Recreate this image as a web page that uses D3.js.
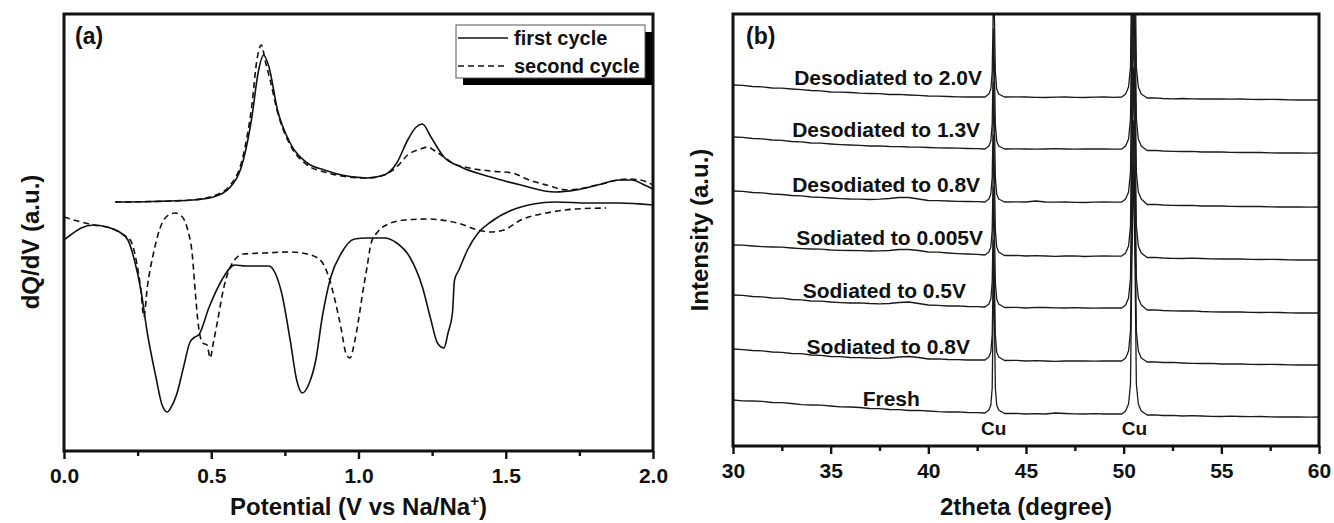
<!DOCTYPE html>
<html>
<head>
<meta charset="utf-8">
<script src="https://cdn.jsdelivr.net/npm/d3@7"></script>
<style>
  html, body { margin: 0; padding: 0; background: #fff; }
  svg { display: block; }
  text { font-family: "Liberation Sans", Arial, Helvetica, sans-serif; font-weight: bold; fill: #111; }
</style>
</head>
<body>
<svg id="chart" width="1334" height="523"></svg>
<script>
// ---------- (a) differential capacity, dQ/dV vs potential ----------
// [potential (V), dQ/dV (a.u.)]
const chargeFirst = [
  [0.174, 0.3], [0.300, 0.35], [0.435, 0.5], [0.507, 0.8], [0.565, 1.8], [0.609, 4.5],
  [0.638, 8.8], [0.659, 13.2], [0.678, 15.0], [0.696, 13.8], [0.725, 9.5], [0.768, 6.2],
  [0.826, 4.2], [0.884, 3.5], [0.942, 3.0], [1.029, 2.7], [1.087, 3.0], [1.130, 4.2],
  [1.167, 6.5], [1.196, 7.8], [1.217, 8.1], [1.246, 6.8], [1.290, 4.8], [1.348, 3.8],
  [1.449, 2.8], [1.551, 2.0], [1.667, 1.3], [1.739, 1.5], [1.812, 2.0], [1.884, 2.5],
  [1.928, 2.5], [1.971, 2.0], [2.000, 1.6]
];
const chargeSecond = [
  [0.174, 0.3], [0.300, 0.35], [0.435, 0.5], [0.507, 0.9], [0.565, 2.0], [0.609, 5.0],
  [0.638, 10.0], [0.655, 14.5], [0.670, 16.0], [0.685, 14.2], [0.700, 12.5], [0.725, 9.3],
  [0.768, 6.0], [0.826, 4.0], [0.884, 3.3], [0.942, 2.9], [1.029, 2.7], [1.087, 3.0],
  [1.130, 3.8], [1.167, 5.0], [1.210, 5.6], [1.235, 5.8], [1.260, 5.4], [1.290, 4.8],
  [1.319, 4.2], [1.377, 3.7], [1.449, 3.4], [1.522, 3.2], [1.580, 2.5], [1.638, 2.0],
  [1.710, 1.5], [1.812, 2.0], [1.913, 2.6], [1.957, 2.5], [2.000, 2.0]
];
const dischargeFirst = [
  [0.000, -3.5], [0.022, -3.0], [0.058, -2.3], [0.101, -2.0], [0.145, -2.2], [0.188, -2.7],
  [0.217, -3.5], [0.239, -5.5], [0.261, -8.5], [0.283, -12.8], [0.312, -17.2], [0.333, -20.0],
  [0.351, -20.7], [0.362, -20.3], [0.384, -18.8], [0.406, -16.2], [0.428, -13.7], [0.445, -13.2],
  [0.457, -13.0], [0.493, -10.2], [0.536, -7.5], [0.580, -6.0], [0.616, -6.1], [0.652, -6.1],
  [0.696, -6.1], [0.717, -6.8], [0.739, -8.8], [0.768, -13.5], [0.790, -17.5], [0.809, -18.8],
  [0.833, -17.8], [0.855, -15.5], [0.877, -11.2], [0.906, -7.2], [0.942, -4.8], [0.986, -3.4],
  [1.029, -3.3], [1.087, -3.3], [1.130, -3.8], [1.174, -5.2], [1.217, -8.2], [1.246, -11.5],
  [1.268, -13.8], [1.290, -14.3], [1.304, -12.8], [1.319, -10.8], [1.326, -7.5], [1.341, -6.5],
  [1.370, -4.5], [1.406, -2.8], [1.449, -1.7], [1.522, -0.5], [1.594, 0.1], [1.667, 0.3],
  [1.783, 0.2], [1.884, 0.2], [2.000, 0.0]
];
const dischargeSecond = [
  [0.000, -1.2], [0.058, -1.7], [0.101, -2.0], [0.159, -2.3], [0.203, -3.0], [0.225, -3.5],
  [0.243, -5.2], [0.261, -8.5], [0.271, -11.2], [0.283, -8.2], [0.304, -4.8], [0.333, -1.8],
  [0.355, -1.0], [0.377, -0.8], [0.399, -1.1], [0.420, -2.5], [0.435, -4.8], [0.446, -8.8],
  [0.457, -12.2], [0.471, -13.8], [0.486, -14.0], [0.496, -15.3], [0.507, -13.8], [0.522, -11.5],
  [0.543, -8.2], [0.572, -5.8], [0.609, -4.9], [0.681, -4.8], [0.768, -4.7], [0.826, -4.9],
  [0.870, -5.5], [0.899, -7.2], [0.920, -9.5], [0.942, -12.5], [0.957, -14.8], [0.971, -15.3],
  [0.986, -13.8], [1.000, -11.5], [1.014, -8.8], [1.029, -6.2], [1.043, -3.8], [1.065, -2.7],
  [1.101, -1.9], [1.159, -1.5], [1.232, -1.4], [1.348, -1.9], [1.406, -2.5], [1.449, -2.7],
  [1.493, -2.5], [1.551, -1.5], [1.638, -0.8], [1.739, -0.4], [1.841, -0.3]
];
const potentialTicks = [0, 0.5, 1.0, 1.5, 2.0];
const cycleNames = ["first cycle", "second cycle"];

// ---------- (b) ex-situ XRD patterns, [2theta (deg), intensity (a.u.)] ----------
const fresh = [
  [30, 46], [30.5, 45.2], [31, 45], [31.5, 44.6], [32, 43.5], [32.5, 43.3], [33, 42.5], [33.5, 41.4], [34, 41],
  [34.5, 40.8], [35, 40], [35.5, 39.2], [36, 39], [36.5, 38.5], [37, 37.5], [37.5, 37.4], [38, 36.5], [38.5, 36.3],
  [39, 35.5], [39.5, 35.6], [40, 35], [40.5, 34.3], [41, 34], [41.5, 34.1], [42, 33.5], [42.5, 33.4], [42.9, 33],
  [43.1, 36], [43.2, 41], [43.27, 58], [43.32, 138], [43.35, 183], [43.38, 138], [43.43, 58], [43.5, 41], [43.6, 36],
  [43.9, 32.5], [44.5, 32.6], [45, 32], [45.5, 32.3], [46, 32], [46.5, 33], [47, 32.5], [47.5, 32.1], [48, 32],
  [48.5, 32.3], [49, 32], [49.5, 32.2], [49.9, 32],
  [50.1, 35], [50.25, 42], [50.35, 62], [50.42, 182], [50.5, 282], [50.58, 182], [50.65, 62], [50.75, 42], [50.9, 35],
  [51.2, 31], [51.6, 31.2], [52, 30.5], [52.5, 30.6], [53, 30], [53.5, 30.3], [54, 30], [54.5, 29.7], [55, 29.5],
  [55.5, 29.8], [56, 29.5], [56.5, 29.3], [57, 29.5], [57.5, 29.2], [58, 29], [58.5, 29.2], [59, 29], [59.5, 28.8], [60, 29]
];
const sodiated08 = [
  [30, 97], [30.5, 96.4], [31, 95.5], [31.5, 95.2], [32, 94], [32.5, 93.6], [33, 92.5], [33.5, 92.3], [34, 91],
  [34.5, 90.6], [35, 89.5], [35.5, 89.3], [36, 88.5], [36.5, 88.4], [37, 88], [37.5, 87.6], [38, 88],
  [38.5, 89], [39, 89.5], [39.5, 88.5], [40, 87], [40.5, 87.1], [41, 86.5], [41.5, 86.3], [42, 86], [42.5, 86.2], [42.9, 86],
  [43.1, 89], [43.2, 94], [43.27, 111], [43.32, 170], [43.35, 206], [43.38, 170], [43.43, 111], [43.5, 94], [43.6, 89],
  [43.9, 85.5], [44.5, 85.7], [45, 85], [45.5, 85.3], [46, 85], [46.5, 84.7], [47, 85], [47.5, 85.2], [48, 85],
  [48.5, 84.8], [49, 85], [49.5, 85.2], [49.9, 85],
  [50.1, 88], [50.25, 95], [50.35, 115], [50.42, 229], [50.5, 325], [50.58, 229], [50.65, 115], [50.75, 95], [50.9, 88],
  [51.2, 84], [51.6, 84.2], [52, 83.5], [52.5, 83.6], [53, 83], [53.5, 82.6], [54, 82.5], [54.5, 82.7], [55, 82],
  [55.5, 82.2], [56, 82], [56.5, 81.6], [57, 81.5], [57.5, 81.7], [58, 81.5], [58.5, 81.2], [59, 81], [59.5, 81.2], [60, 81]
];
const sodiated05 = [
  [30, 151], [30.5, 150.6], [31, 149.5], [31.5, 149.1], [32, 148], [32.5, 147.8], [33, 146.5], [33.5, 146.2], [34, 145],
  [34.5, 144.8], [35, 144], [35.5, 143.4], [36, 143], [36.5, 143.1], [37, 142.5], [37.5, 142.2], [38, 142.5],
  [38.5, 143.5], [39, 144], [39.5, 142.5], [40, 141], [40.5, 140.7], [41, 140], [41.5, 140.2], [42, 139.5], [42.5, 139.4], [42.9, 139],
  [43.1, 142], [43.2, 147], [43.27, 164], [43.32, 223], [43.35, 259], [43.38, 223], [43.43, 164], [43.5, 147], [43.6, 142],
  [43.9, 138.5], [44.5, 138.7], [45, 138], [45.5, 138.6], [46, 138.5], [46.5, 138.1], [47, 138], [47.5, 138.3], [48, 138],
  [48.5, 137.8], [49, 138], [49.5, 138.2], [49.9, 138],
  [50.1, 141], [50.25, 148], [50.35, 168], [50.42, 282], [50.5, 378], [50.58, 282], [50.65, 168], [50.75, 148], [50.9, 141],
  [51.2, 136], [51.6, 136.2], [52, 135.5], [52.5, 135.2], [53, 135], [53.5, 135.1], [54, 134.5], [54.5, 134.2], [55, 134],
  [55.5, 134.2], [56, 134], [56.5, 133.6], [57, 133.5], [57.5, 133.7], [58, 133.5], [58.5, 133.1], [59, 133], [59.5, 133.2], [60, 133]
];
const sodiated0005 = [
  [30, 201], [30.5, 200.8], [31, 200], [31.5, 199.4], [32, 199], [32.5, 198.8], [33, 198], [33.5, 197.4], [34, 197],
  [34.5, 196.8], [35, 196], [35.5, 195.6], [36, 195.5], [36.5, 195.4], [37, 195], [37.5, 195.1], [38, 195.5],
  [38.5, 196.5], [39, 196.5], [39.5, 195.5], [40, 194], [40.5, 193.8], [41, 193], [41.5, 192.4], [42, 192], [42.5, 191.6], [42.9, 191],
  [43.1, 194], [43.2, 199], [43.27, 216], [43.32, 275], [43.35, 311], [43.38, 275], [43.43, 216], [43.5, 199], [43.6, 194],
  [43.9, 190.5], [44.5, 190.6], [45, 190], [45.5, 190.3], [46, 190], [46.5, 189.7], [47, 190], [47.5, 190.2], [48, 189.5],
  [48.5, 189.8], [49, 190], [49.5, 189.8], [49.9, 190],
  [50.1, 193], [50.25, 200], [50.35, 220], [50.42, 334], [50.5, 430], [50.58, 334], [50.65, 220], [50.75, 200], [50.9, 193],
  [51.2, 188.5], [51.6, 188.6], [52, 188], [52.5, 187.7], [53, 187.5], [53.5, 187.8], [54, 187.5], [54.5, 187.1], [55, 187],
  [55.5, 187.2], [56, 187], [56.5, 186.6], [57, 186.5], [57.5, 186.7], [58, 186.5], [58.5, 186.1], [59, 186], [59.5, 186.2], [60, 186]
];
const desodiated08 = [
  [30, 255], [30.5, 254.6], [31, 253.5], [31.5, 253.2], [32, 252], [32.5, 251.5], [33, 250.5], [33.5, 250.2], [34, 249],
  [34.5, 248.7], [35, 248], [35.5, 247.4], [36, 247], [36.5, 246.9], [37, 246.5], [37.5, 246.8], [38, 247.5],
  [38.5, 248.5], [39, 248.5], [39.5, 247], [40, 245.5], [40.5, 245.4], [41, 245], [41.5, 244.6], [42, 244.5], [42.5, 244.3], [42.9, 244],
  [43.1, 247], [43.2, 252], [43.27, 269], [43.32, 328], [43.35, 364], [43.38, 328], [43.43, 269], [43.5, 252], [43.6, 247],
  [43.9, 244], [44.5, 244.2], [45, 244], [45.5, 245], [46, 244], [46.5, 243.8], [47, 244], [47.5, 243.6], [48, 243.5],
  [48.5, 243.8], [49, 244], [49.5, 243.8], [49.9, 244],
  [50.1, 247], [50.25, 254], [50.35, 274], [50.42, 388], [50.5, 484], [50.58, 388], [50.65, 274], [50.75, 254], [50.9, 247],
  [51.2, 241.5], [51.6, 241.6], [52, 241], [52.5, 240.7], [53, 240.5], [53.5, 240.6], [54, 240], [54.5, 240.2], [55, 240],
  [55.5, 239.6], [56, 239.5], [56.5, 239.7], [57, 239.5], [57.5, 239.1], [58, 239], [58.5, 239.2], [59, 239], [59.5, 238.8], [60, 239]
];
const desodiated13 = [
  [30, 309], [30.5, 308.6], [31, 307.5], [31.5, 307.2], [32, 306], [32.5, 305.6], [33, 304.5], [33.5, 304.2], [34, 303],
  [34.5, 302.8], [35, 302], [35.5, 301.4], [36, 301], [36.5, 300.7], [37, 300], [37.5, 300.1], [38, 299.5],
  [38.5, 299.4], [39, 299], [39.5, 298.9], [40, 298.5], [40.5, 298.1], [41, 298], [41.5, 297.9], [42, 297.5], [42.5, 297.3], [42.9, 297],
  [43.1, 300], [43.2, 305], [43.27, 322], [43.32, 381], [43.35, 417], [43.38, 381], [43.43, 322], [43.5, 305], [43.6, 300],
  [43.9, 297], [44.5, 297.2], [45, 297], [45.5, 296.8], [46, 297], [46.5, 297.3], [47, 297], [47.5, 296.8], [48, 297],
  [48.5, 297.2], [49, 297], [49.5, 296.8], [49.9, 297],
  [50.1, 300], [50.25, 307], [50.35, 327], [50.42, 441], [50.5, 537], [50.58, 441], [50.65, 327], [50.75, 307], [50.9, 300],
  [51.2, 295.5], [51.6, 295.6], [52, 295], [52.5, 294.7], [53, 294.5], [53.5, 294.6], [54, 294], [54.5, 294.2], [55, 294],
  [55.5, 293.6], [56, 293.5], [56.5, 293.7], [57, 293.5], [57.5, 293.1], [58, 293], [58.5, 293.2], [59, 293], [59.5, 292.8], [60, 293]
];
const desodiated20 = [
  [30, 361], [30.5, 360.6], [31, 359.5], [31.5, 359.1], [32, 358], [32.5, 357.8], [33, 357], [33.5, 356.3], [34, 355.5],
  [34.5, 355.2], [35, 354], [35.5, 353.9], [36, 353.5], [36.5, 352.8], [37, 352.5], [37.5, 352.3], [38, 351.5],
  [38.5, 351.6], [39, 351], [39.5, 350.6], [40, 350], [40.5, 349.9], [41, 349.5], [41.5, 349.2], [42, 349], [42.5, 349.1], [42.9, 349],
  [43.1, 352], [43.2, 357], [43.27, 374], [43.32, 433], [43.35, 469], [43.38, 433], [43.43, 374], [43.5, 357], [43.6, 352],
  [43.9, 349], [44.5, 349.2], [45, 349], [45.5, 348.7], [46, 348.5], [46.5, 348.8], [47, 349], [47.5, 348.6], [48, 348.5],
  [48.5, 348.8], [49, 349], [49.5, 348.7], [49.9, 349],
  [50.1, 352], [50.25, 359], [50.35, 379], [50.42, 493], [50.5, 589], [50.58, 493], [50.65, 379], [50.75, 359], [50.9, 352],
  [51.2, 348], [51.6, 348.1], [52, 347.5], [52.5, 347.2], [53, 347.5], [53.5, 347.1], [54, 347], [54.5, 347.2], [55, 347],
  [55.5, 346.8], [56, 347], [56.5, 346.6], [57, 346.5], [57.5, 346.7], [58, 346.5], [58.5, 346.1], [59, 346], [59.5, 346.2], [60, 346]
];
const sampleNames = ["Fresh", "Sodiated to 0.8V", "Sodiated to 0.5V", "Sodiated to 0.005V",
                     "Desodiated to 0.8V", "Desodiated to 1.3V", "Desodiated to 2.0V"];
const copperPeaks = [43.35, 50.55];
const thetaTicks = [30, 35, 40, 45, 50, 55, 60];

// ---------- drawing ----------
const svg = d3.select("#chart");
const defs = svg.append("defs");

function bottomAxis(g, x, major, minor, fmt, y) {
  g.append("g")
    .attr("transform", `translate(0,${y})`)
    .call(d3.axisBottom(x).tickValues(minor).tickSize(5).tickFormat(""))
    .call(a => a.select(".domain").remove())
    .call(a => a.selectAll("line").attr("stroke", "#111").attr("stroke-width", 2.4));
  const ax = g.append("g")
    .attr("transform", `translate(0,${y})`)
    .call(d3.axisBottom(x).tickValues(major).tickSize(8).tickPadding(9).tickFormat(fmt))
    .call(a => a.select(".domain").remove());
  ax.selectAll("line").attr("stroke", "#111").attr("stroke-width", 2.4);
  ax.selectAll("text").attr("font-size", 21).attr("fill", "#111")
    .style("font-family", '"Liberation Sans", Arial, sans-serif').style("font-weight", "bold");
}

// ----- panel (a) -----
const A = { left: 64, right: 653, top: 14, bottom: 451 };
const xA = d3.scaleLinear().domain([0, 2]).range([A.left, A.right]);
const yA = d3.scaleLinear().domain([-24.6, 19.1]).range([A.bottom, A.top]);
const gA = svg.append("g");

defs.append("clipPath").attr("id", "clipA").append("rect")
  .attr("x", A.left).attr("y", A.top).attr("width", A.right - A.left).attr("height", A.bottom - A.top);

const lineA = d3.line().x(d => xA(d[0])).y(d => yA(d[1])).curve(d3.curveMonotoneX);
const curvesA = [
  { data: chargeFirst, dash: null },
  { data: dischargeFirst, dash: null },
  { data: chargeSecond, dash: "6,4" },
  { data: dischargeSecond, dash: "6,4" }
];
gA.append("g").attr("clip-path", "url(#clipA)")
  .selectAll("path").data(curvesA).join("path")
  .attr("d", d => lineA(d.data))
  .attr("fill", "none").attr("stroke", "#111").attr("stroke-width", 1.6)
  .attr("stroke-dasharray", d => d.dash);

const minorA = d3.range(0, 2.01, 0.25).filter(v => Math.abs(v * 2 - Math.round(v * 2)) > 1e-6);
bottomAxis(gA, xA, potentialTicks, minorA, d3.format(".1f"), A.bottom);

gA.append("rect").attr("x", A.left).attr("y", A.top)
  .attr("width", A.right - A.left).attr("height", A.bottom - A.top)
  .attr("fill", "none").attr("stroke", "#111").attr("stroke-width", 3);

gA.append("text").attr("x", 75).attr("y", 44).attr("font-size", 23).text("(a)");

// legend with drop shadow
const leg = gA.append("g").attr("transform", "translate(456,25)");
leg.append("rect").attr("x", 7).attr("y", 7).attr("width", 189).attr("height", 53).attr("fill", "#000");
leg.append("rect").attr("x", 0).attr("y", 0).attr("width", 189).attr("height", 53)
  .attr("fill", "#fff").attr("stroke", "#555").attr("stroke-width", 1);
cycleNames.forEach((name, i) => {
  leg.append("line").attr("x1", 2).attr("x2", 52).attr("y1", 13 + i * 28).attr("y2", 13 + i * 28)
    .attr("stroke", "#111").attr("stroke-width", 1.3).attr("stroke-dasharray", i ? "6,4" : null);
  leg.append("text").attr("x", 58).attr("y", 20 + i * 28).attr("font-size", 20).text(name);
});

gA.append("text").attr("transform", `translate(39,242) rotate(-90)`)
  .attr("text-anchor", "middle").attr("font-size", 24).text("dQ/dV (a.u.)");
const xtA = gA.append("text").attr("x", (A.left + A.right) / 2).attr("y", 515)
  .attr("text-anchor", "middle").attr("font-size", 24);
xtA.append("tspan").text("Potential (V vs Na/Na");
xtA.append("tspan").attr("font-size", 15).attr("dy", -9).text("+");
xtA.append("tspan").attr("dy", 9).text(")");

// ----- panel (b) -----
const B = { left: 733, right: 1319, top: 14, bottom: 446 };
const xB = d3.scaleLinear().domain([30, 60]).range([B.left, B.right]);
const yB = d3.scaleLinear().domain([0, 432]).range([B.bottom, B.top]);
const gB = svg.append("g");

defs.append("clipPath").attr("id", "clipB").append("rect")
  .attr("x", B.left).attr("y", B.top).attr("width", B.right - B.left).attr("height", B.bottom - B.top);

const patterns = [fresh, sodiated08, sodiated05, sodiated0005, desodiated08, desodiated13, desodiated20];
const lineB = d3.line().x(d => xB(d[0])).y(d => yB(d[1]));
gB.append("g").attr("clip-path", "url(#clipB)")
  .selectAll("path").data(patterns).join("path")
  .attr("d", d => lineB(d))
  .attr("fill", "none").attr("stroke", "#1a1a1a").attr("stroke-width", 1.3).attr("stroke-linejoin", "round");

const minorB = d3.range(32.5, 60, 5);
bottomAxis(gB, xB, thetaTicks, minorB, d3.format("d"), B.bottom);

gB.append("rect").attr("x", B.left).attr("y", B.top)
  .attr("width", B.right - B.left).attr("height", B.bottom - B.top)
  .attr("fill", "none").attr("stroke", "#111").attr("stroke-width", 3);

gB.append("text").attr("x", 746).attr("y", 44).attr("font-size", 23).text("(b)");

// sample labels: [anchor 2theta, intensity at baseline, text-anchor]
const labelLayout = [
  [38.1, 40, "middle"], [42.13, 92, "end"], [41.93, 148, "end"], [42.8, 201, "end"],
  [42.65, 254, "end"], [42.65, 309, "end"], [42.75, 361, "end"]
];
gB.selectAll("text.sample").data(sampleNames).join("text").attr("class", "sample")
  .attr("x", (d, i) => xB(labelLayout[i][0]))
  .attr("y", (d, i) => yB(labelLayout[i][1]))
  .attr("text-anchor", (d, i) => labelLayout[i][2])
  .attr("font-size", 21).text(d => d);

gB.selectAll("text.cu").data(copperPeaks).join("text").attr("class", "cu")
  .attr("x", d => xB(d)).attr("y", yB(11)).attr("text-anchor", "middle")
  .attr("font-size", 19).text("Cu");

gB.append("text").attr("transform", `translate(708,230) rotate(-90)`)
  .attr("text-anchor", "middle").attr("font-size", 24).text("Intensity (a.u.)");
gB.append("text").attr("x", (B.left + B.right) / 2).attr("y", 515)
  .attr("text-anchor", "middle").attr("font-size", 24).text("2theta (degree)");
</script>
</body>
</html>
